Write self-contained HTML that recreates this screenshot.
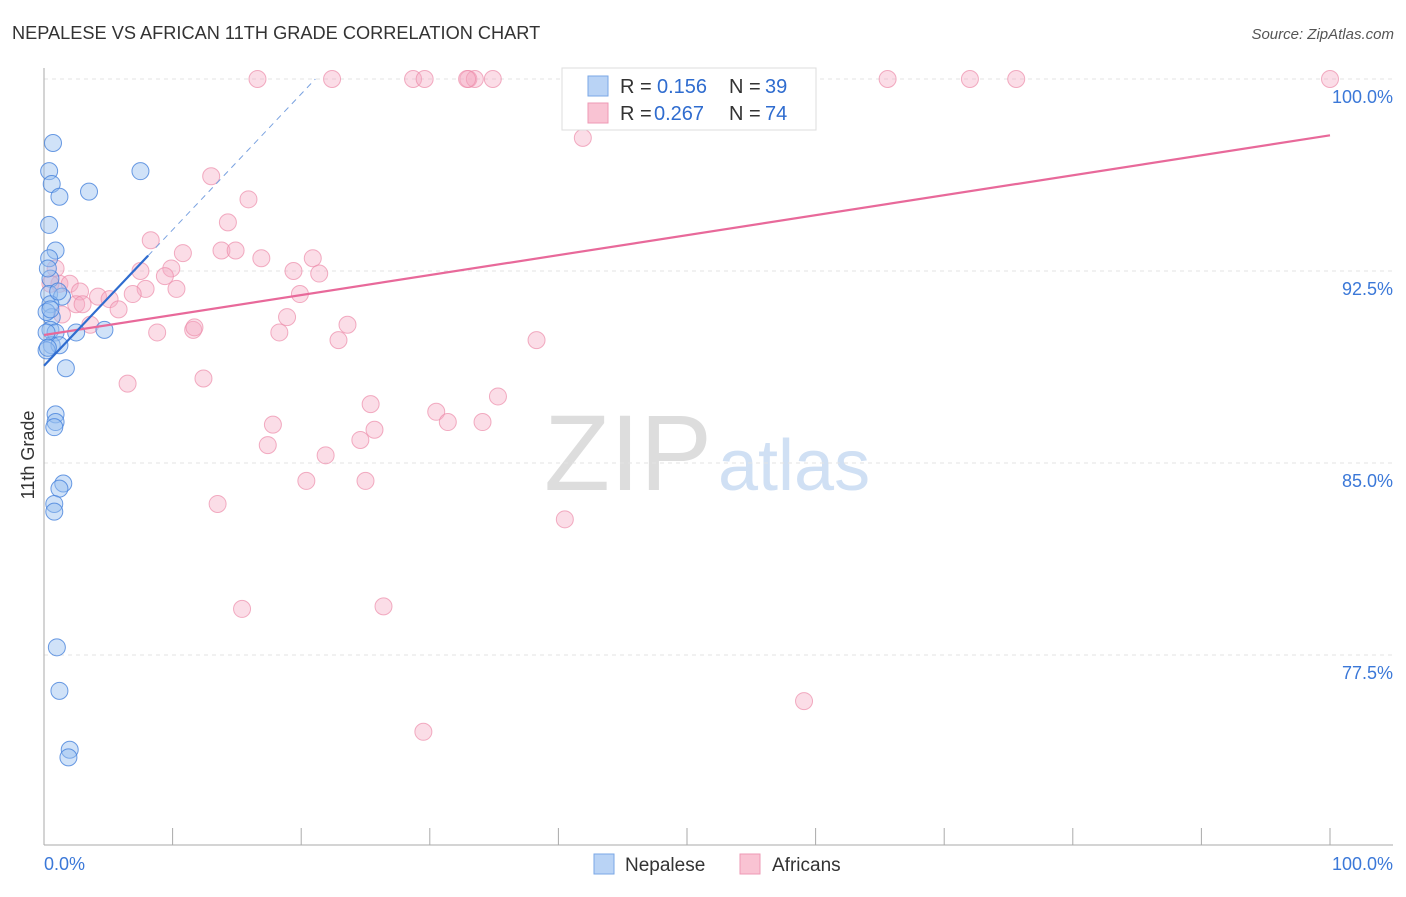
<!DOCTYPE html>
<html><head><meta charset="utf-8"><style>
body{margin:0;background:#fff;font-family:"Liberation Sans",sans-serif}
svg text{font-family:"Liberation Sans",sans-serif}
</style></head><body>
<svg id="c" width="1406" height="892">
<text x="12" y="39" font-size="18.2" fill="#333">NEPALESE VS AFRICAN 11TH GRADE CORRELATION CHART</text>
<text x="1394" y="39" font-size="15" fill="#555" font-style="italic" text-anchor="end">Source: ZipAtlas.com</text>
<text x="712" y="490" font-size="108" fill="#ddd" text-anchor="end" font-family="Liberation Serif">ZIP</text>
<text x="718" y="490" font-size="72" fill="#d0e0f4">atlas</text>
<text transform="translate(34,455) rotate(-90)" font-size="18" fill="#333" text-anchor="middle">11th Grade</text>
<g id="grid"></g><g id="pts"></g><g id="lines"></g>
<g>
<rect x="562" y="68" width="254" height="62" fill="#fff" stroke="#ddd"/>
<rect x="588" y="76" width="20" height="20" fill="#b9d3f5" stroke="#7aa7e6"/>
<rect x="588" y="103" width="20" height="20" fill="#f9c3d3" stroke="#ee9ab4"/>
<text x="620" y="93" font-size="20" fill="#333">R =</text><text x="657" y="93" font-size="20" fill="#2f6ccf">0.156</text>
<text x="729" y="93" font-size="20" fill="#333">N =</text><text x="765" y="93" font-size="20" fill="#2f6ccf">39</text>
<text x="620" y="120" font-size="20" fill="#333">R =</text><text x="654" y="120" font-size="20" fill="#2f6ccf">0.267</text>
<text x="729" y="120" font-size="20" fill="#333">N =</text><text x="765" y="120" font-size="20" fill="#2f6ccf">74</text>
</g>
<g>
<rect x="594" y="854" width="20" height="20" fill="#b9d3f5" stroke="#7aa7e6"/>
<text x="625" y="871" font-size="19" fill="#333">Nepalese</text>
<rect x="740" y="854" width="20" height="20" fill="#f9c3d3" stroke="#ee9ab4"/>
<text x="772" y="871" font-size="19" fill="#333">Africans</text>
</g>
</svg>
<script>
const yTicks=[100,92.5,85,77.5];
const yTickLabels=["100.0%","92.5%","85.0%","77.5%"];
const blueX=[0.7,0.4,0.6,1.2,3.5,7.5,0.4,0.9,0.4,0.5,0.4,1.4,0.5,0.6,0.5,0.9,2.5,4.7,0.6,1.2,0.2,1.7,0.9,0.9,0.8,1.5,1.2,0.8,0.8,1.0,1.2,2.0,1.9,0.2,0.3,0.2,1.1,0.3,0.5];
const blueY=[97.5,96.4,95.9,95.4,95.6,96.4,94.3,93.3,93.0,92.2,91.6,91.5,91.2,90.7,90.2,90.1,90.1,90.2,89.6,89.6,89.4,88.7,86.9,86.6,86.4,84.2,84.0,83.4,83.1,77.8,76.1,73.8,73.5,90.1,89.5,90.9,91.7,92.6,91.0];
const pinkX=[16.6,22.4,28.7,29.6,33.0,33.5,34.9,42.5,52.3,65.6,72.0,75.6,100,32.9,41.9,13.0,15.9,14.3,8.3,10.8,13.8,14.9,16.9,20.9,0.9,7.5,9.9,9.4,19.4,21.4,1.2,2.0,2.8,7.9,10.3,6.9,4.2,5.1,5.8,2.5,19.9,18.9,3.6,8.8,11.6,11.7,18.3,23.6,22.9,38.3,6.5,12.4,35.3,25.4,30.5,17.8,31.4,34.1,25.7,24.6,17.4,21.9,20.4,25.0,13.5,40.5,15.4,26.4,59.1,29.5,55.7,1.4,0.5,3.0];
const pinkY=[100,100,100,100,100,100,100,100,100,100,100,100,100,100,97.7,96.2,95.3,94.4,93.7,93.2,93.3,93.3,93.0,93.0,92.6,92.5,92.6,92.3,92.5,92.4,92.0,92.0,91.7,91.8,91.8,91.6,91.5,91.4,91.0,91.2,91.6,90.7,90.4,90.1,90.2,90.3,90.1,90.4,89.8,89.8,88.1,88.3,87.6,87.3,87.0,86.5,86.6,86.6,86.3,85.9,85.7,85.3,84.3,84.3,83.4,82.8,79.3,79.4,75.7,74.5,99.1,90.8,92.0,91.2];
const blueLine=[0,88.8,8.1,93.1];const blueDash=[8.1,93.1,21.1,100];
const pinkLine=[0,90.0,100,97.8];
const X=v=>44+v*12.86, Y=v=>79+(100-v)*25.6;
const NS="http://www.w3.org/2000/svg";
function mk(t,a,p){const e=document.createElementNS(NS,t);for(const k in a)e.setAttribute(k,a[k]);p.appendChild(e);return e;}
const g=document.getElementById('grid');
yTicks.forEach((t,i)=>{
 const l=mk('line',{x1:44,x2:1393,y1:Y(t),y2:Y(t),stroke:'#e3e3e3','stroke-dasharray':'4,4'},g);
 
 
 const tx=mk('text',{x:1393,y:Y(t)+24,'font-size':18,fill:'#3b78d8','text-anchor':'end'},g);
 tx.textContent=yTickLabels[i];
 
 
});
mk('line',{x1:44,x2:44,y1:68,y2:845,stroke:'#aaa'},g);
mk('line',{x1:44,x2:1393,y1:845,y2:845,stroke:'#aaa'},g);
for(let i=0;i<=10;i++){const x=44+i*128.6;mk('line',{x1:x,x2:x,y1:828,y2:845,stroke:'#aaa'},g);}
[["0.0%",44,"start"],["100.0%",1393,"end"]].forEach(d=>{const t=mk('text',{x:d[1],y:870,'font-size':18,fill:'#3b78d8','text-anchor':d[2]},g);t.textContent=d[0];
 
 });
const p=document.getElementById('pts');
pinkX.forEach((v,i)=>{const c=mk('circle',{cx:X(v),cy:Y(pinkY[i]),r:8.5,fill:'rgba(246,170,195,0.4)',stroke:'rgba(236,140,170,0.7)','stroke-width':1},p);
 
 });
blueX.forEach((v,i)=>{const c=mk('circle',{cx:X(v),cy:Y(blueY[i]),r:8.5,fill:'rgba(150,190,240,0.45)',stroke:'rgba(70,130,220,0.8)','stroke-width':1},p);
 
 });
const L=document.getElementById('lines');
let a=mk('line',{x1:X(pinkLine[0]),y1:Y(pinkLine[1]),x2:X(pinkLine[2]),y2:Y(pinkLine[3]),stroke:'#e8699a','stroke-width':2.2},L);


a=mk('line',{x1:X(blueLine[0]),y1:Y(blueLine[1]),x2:X(blueLine[2]),y2:Y(blueLine[3]),stroke:'#2f6ccf','stroke-width':2.2},L);


a=mk('line',{x1:X(blueDash[0]),y1:Y(blueDash[1]),x2:X(blueDash[2]),y2:Y(blueDash[3]),stroke:'#7aa2e0','stroke-width':1,'stroke-dasharray':'6,5'},L);


</script>
</body></html>
